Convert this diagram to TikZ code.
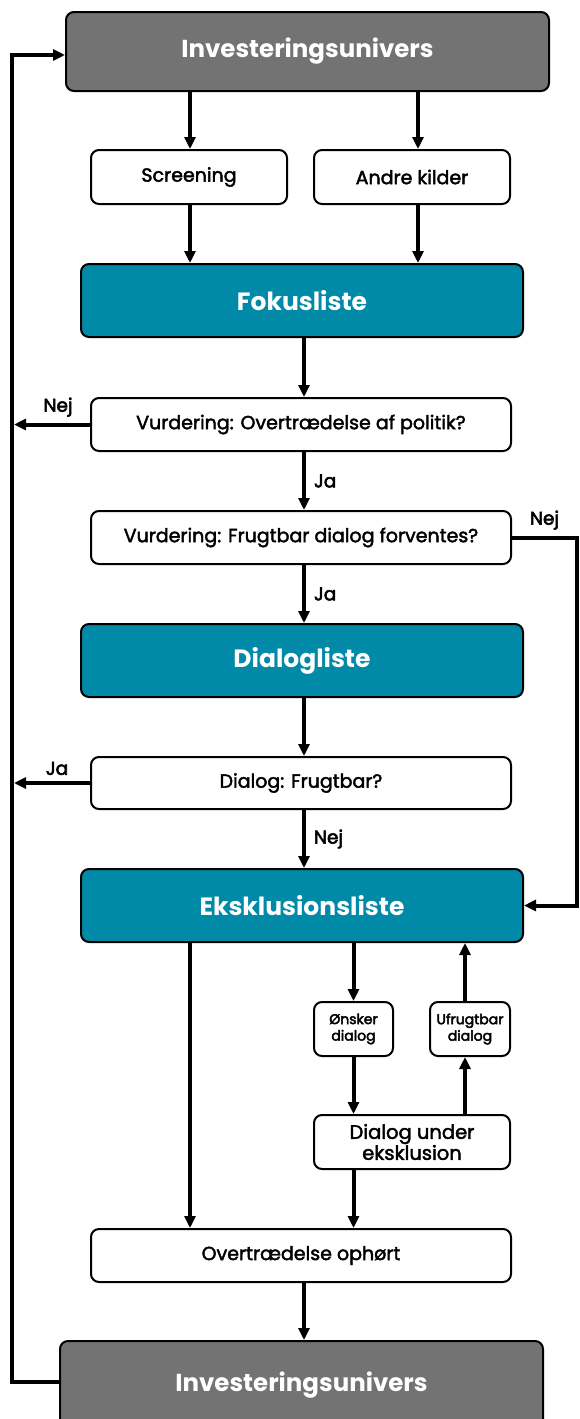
\documentclass[tikz,border=0pt]{standalone}
\usepackage{fontspec}
\setmainfont{Poppins}
\newfontfamily\medfont{Poppins}[FakeBold=2.2]
\newfontfamily\semifont{Poppins}[FakeBold=3.0]
\usetikzlibrary{arrows.meta,calc}
\definecolor{greybox}{HTML}{737373}
\definecolor{tealbox}{HTML}{008AA8}
\tikzset{
  base/.style={draw=black,line width=2pt,rounded corners=8pt,inner sep=0pt,align=center},
  whitebox/.style={base,fill=white,font=\medfont\fontsize{19}{22}\selectfont},
  smallbox/.style={base,fill=white,font=\semifont\fontsize{14}{16.5}\selectfont},
  greyhead/.style={base,fill=greybox,text=white,font=\fontsize{24.5}{28}\selectfont\bfseries},
  tealhead/.style={base,fill=tealbox,text=white,font=\fontsize{25}{28}\selectfont\bfseries},
  arr/.style={line width=4pt,-{Triangle[length=12pt,width=11pt]},line join=miter},
  lbl/.style={font=\semifont\fontsize{18.5}{20}\selectfont,inner sep=0pt}
}
\begin{document}
\begin{tikzpicture}[x=1pt,y=-1pt]
\useasboundingbox (0,0) rectangle (580,1419);
\node[greyhead,minimum width=483pt,minimum height=79pt] (top) at (307.5,51.5) {Investeringsunivers};
\node[whitebox,minimum width=196pt,minimum height=54pt] (scr) at (189,177) {Screening};
\node[whitebox,minimum width=196pt,minimum height=54pt] (andre) at (412,177) {Andre kilder};
\node[tealhead,minimum width=442pt,minimum height=73pt] (fokus) at (302,300.5) {Fokusliste};
\node[whitebox,minimum width=420pt,minimum height=53pt] (v1) at (301,424.5) {Vurdering: Overtrædelse af politik?};
\node[whitebox,minimum width=420pt,minimum height=53pt] (v2) at (301,537.5) {Vurdering: Frugtbar dialog forventes?};
\node[tealhead,minimum width=442pt,minimum height=73pt] (dliste) at (302,660.5) {Dialogliste};
\node[whitebox,minimum width=420pt,minimum height=52pt] (dfrug) at (301,783) {Dialog: Frugtbar?};
\node[tealhead,minimum width=442pt,minimum height=73pt] (eks) at (302,905.5) {Eksklusionsliste};
\node[smallbox,minimum width=79pt,minimum height=54pt] (onsk) at (353.5,1029) {Ønsker\\dialog};
\node[smallbox,minimum width=80pt,minimum height=54pt] (ufrug) at (470,1029) {Ufrugtbar\\dialog};
\node[whitebox,minimum width=196pt,minimum height=54pt,font=\medfont\fontsize{19.5}{21}\selectfont] (dunder) at (412,1142) {Dialog under\\eksklusion};
\node[whitebox,minimum width=420pt,minimum height=53pt] (ophor) at (301,1255.5) {Overtrædelse ophørt};
\node[greyhead,minimum width=483pt,minimum height=88pt] (bot) at (301.5,1385) {Investeringsunivers};

\coordinate (lb) at (12,1382);
\coordinate (lt) at (12,55);
\coordinate (lx) at (14,0);
\coordinate (rx) at (577,0);

% top to sources
\draw[arr] ([xshift=1pt]scr.north |- top.south) -- ([xshift=1pt]scr.north);
\draw[arr] ([xshift=6pt]andre.north |- top.south) -- ([xshift=6pt]andre.north);
\draw[arr] ([xshift=1pt]scr.south) -- ([xshift=1pt]scr.south |- fokus.north);
\draw[arr] ([xshift=6pt]andre.south) -- ([xshift=6pt]andre.south |- fokus.north);
% main column
\draw[arr] ([xshift=2pt]fokus.south) -- ([xshift=3pt]v1.north);
\draw[arr] ([xshift=3pt]v1.south) -- node[lbl,right=8pt] {Ja} ([xshift=3pt]v2.north);
\draw[arr] ([xshift=3pt]v2.south) -- node[lbl,right=8pt] {Ja} ([xshift=2pt]dliste.north);
\draw[arr] ([xshift=2pt]dliste.south) -- ([xshift=3pt]dfrug.north);
\draw[arr] ([xshift=3pt]dfrug.south) -- node[lbl,right=8pt] {Nej} ([xshift=2pt]eks.north);
% left exits
\draw[arr] (v1.west) -- node[lbl,above=6pt,xshift=6pt] {Nej} (v1.west -| lx);
\draw[arr] (dfrug.west) -- node[lbl,above=6pt,xshift=5pt] {Ja} (dfrug.west -| lx);
% right path
\draw[arr] (v2.east) -- node[lbl,above=6pt,pos=0.5] {Nej} (v2.east -| rx) |- (eks.east);
% exclusion loop
\draw[arr] (onsk.north |- eks.south) -- (onsk.north);
\draw[arr] (onsk.south) -- (onsk.south |- dunder.north);
\draw[arr] ([xshift=-5pt]ufrug.south |- dunder.north) -- ([xshift=-5pt]ufrug.south);
\draw[arr] ([xshift=-5pt]ufrug.north) -- ([xshift=-5pt]ufrug.north |- eks.south);
\draw[arr] (onsk.south |- dunder.south) -- (onsk.south |- ophor.north);
\draw[arr] ([xshift=-112pt]eks.south) -- ([xshift=-112pt]eks.south |- ophor.north);
\draw[arr] ([xshift=3pt]ophor.south) -- ([xshift=3pt]ophor.south |- bot.north);
% return line
\draw[arr] (bot.west |- lb) -- (lb) -- (lt) -- (top.west |- lt);
\end{tikzpicture}
\end{document}
